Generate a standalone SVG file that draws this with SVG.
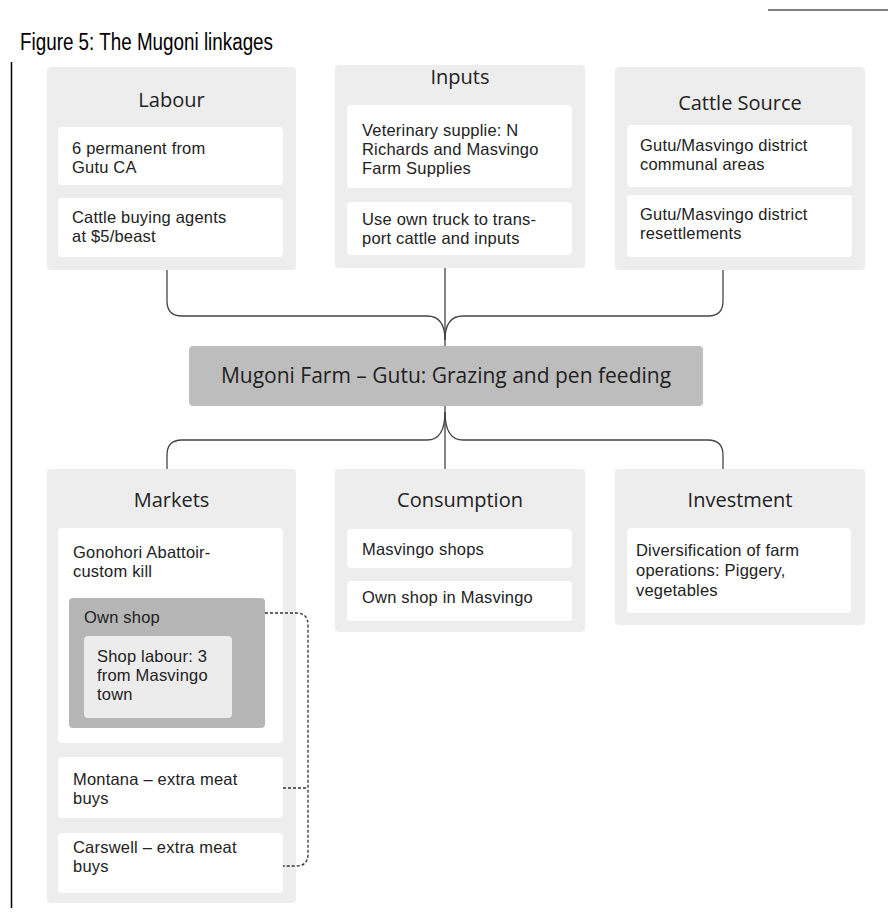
<svg xmlns="http://www.w3.org/2000/svg" width="888" height="923" viewBox="0 0 888 923">
<style>
.outer{fill:#ededed}
.sub{fill:#ffffff}
.center{fill:#bdbdbd}
.shop{fill:#b6b6b6}
.inner{fill:#ececec}
text{font-family:"Open Sans","Noto Sans",sans-serif;fill:#222}
.h{font-size:20px;text-anchor:middle}
.t{font-family:"Liberation Sans",Arial,sans-serif;font-size:16.5px;letter-spacing:0.2px}
.c{font-size:21px;text-anchor:middle}
.title{font-family:"Liberation Sans",Arial,sans-serif;font-size:23px;fill:#000}
.conn{fill:none;stroke:#444;stroke-width:1.3}
.dash{fill:none;stroke:#333;stroke-width:1.3;stroke-dasharray:3 2}
</style>
<line x1="768" y1="10" x2="888" y2="10" stroke="#000" stroke-width="1"/>
<text class="title" x="20" y="50" textLength="253" lengthAdjust="spacingAndGlyphs">Figure 5: The Mugoni linkages</text>
<line x1="11.5" y1="62" x2="11.5" y2="908" stroke="#000" stroke-width="1.5"/>

<g id="labour">
<rect class="outer" x="47" y="67" width="249" height="203" rx="4"/>
<text class="h" x="171.5" y="107">Labour</text>
<rect class="sub" x="58" y="127" width="225" height="58" rx="4"/>
<text class="t" x="72" y="154">6 permanent from</text>
<text class="t" x="72" y="173">Gutu CA</text>
<rect class="sub" x="58" y="198" width="225" height="59" rx="4"/>
<text class="t" x="72" y="223">Cattle buying agents</text>
<text class="t" x="72" y="242">at $5/beast</text>
</g>

<g id="inputs">
<rect class="outer" x="335" y="65" width="250" height="203" rx="4"/>
<text class="h" x="460" y="84">Inputs</text>
<rect class="sub" x="347" y="105" width="225" height="83" rx="4"/>
<text class="t" x="362" y="136">Veterinary supplie: N</text>
<text class="t" x="362" y="155">Richards and Masvingo</text>
<text class="t" x="362" y="174">Farm Supplies</text>
<rect class="sub" x="347" y="202" width="225" height="53" rx="4"/>
<text class="t" x="362" y="225">Use own truck to trans-</text>
<text class="t" x="362" y="244">port cattle and inputs</text>
</g>

<g id="cattle-source">
<rect class="outer" x="615" y="67" width="250" height="203" rx="4"/>
<text class="h" x="740" y="110">Cattle Source</text>
<rect class="sub" x="627" y="125" width="225" height="62" rx="4"/>
<text class="t" x="640" y="151">Gutu/Masvingo district</text>
<text class="t" x="640" y="170">communal areas</text>
<rect class="sub" x="627" y="195" width="225" height="62" rx="4"/>
<text class="t" x="640" y="220">Gutu/Masvingo district</text>
<text class="t" x="640" y="239">resettlements</text>
</g>

<g id="mugoni-farm">
<rect class="center" x="189" y="346" width="514" height="60" rx="4"/>
<text class="c" x="446" y="383">Mugoni Farm – Gutu: Grazing and pen feeding</text>
</g>

<g id="markets">
<rect class="outer" x="47" y="469" width="249" height="434" rx="4"/>
<text class="h" x="171.5" y="507">Markets</text>
<rect class="sub" x="58" y="528" width="225" height="215" rx="4"/>
<text class="t" x="73" y="558">Gonohori Abattoir-</text>
<text class="t" x="73" y="577">custom kill</text>
<g id="own-shop">
<rect class="shop" x="69" y="598" width="196" height="130" rx="4"/>
<text class="t" x="84" y="623">Own shop</text>
<rect class="inner" x="84" y="636" width="148" height="82" rx="4"/>
<text class="t" x="97" y="662">Shop labour: 3</text>
<text class="t" x="97" y="681">from Masvingo</text>
<text class="t" x="97" y="700">town</text>
</g>
<g id="montana">
<rect class="sub" x="58" y="757" width="225" height="61" rx="4"/>
<text class="t" x="73" y="785">Montana – extra meat</text>
<text class="t" x="73" y="804">buys</text>
</g>
<g id="carswell">
<rect class="sub" x="58" y="833" width="225" height="60" rx="4"/>
<text class="t" x="73" y="853">Carswell – extra meat</text>
<text class="t" x="73" y="872">buys</text>
</g>
</g>

<g id="consumption">
<rect class="outer" x="335" y="469" width="250" height="163" rx="4"/>
<text class="h" x="460" y="507">Consumption</text>
<rect class="sub" x="347" y="529" width="225" height="39" rx="4"/>
<text class="t" x="362" y="555">Masvingo shops</text>
<rect class="sub" x="347" y="581" width="225" height="40" rx="4"/>
<text class="t" x="362" y="603">Own shop in Masvingo</text>
</g>

<g id="investment">
<rect class="outer" x="615" y="469" width="250" height="156" rx="4"/>
<text class="h" x="740" y="507">Investment</text>
<rect class="sub" x="627" y="528" width="224" height="85" rx="4"/>
<text class="t" x="636" y="556">Diversification of farm</text>
<text class="t" x="636" y="576">operations: Piggery,</text>
<text class="t" x="636" y="596">vegetables</text>
</g>

<g id="connectors">
<path class="conn" d="M445,268 V346"/>
<path class="conn" d="M167,270 V301 Q167,316 182,316 H427 Q445,316 445,340"/>
<path class="conn" d="M723,270 V301 Q723,316 708,316 H463 Q445,316 445,340"/>
<path class="conn" d="M445,406 V469"/>
<path class="conn" d="M445,412 Q445,440 427,440 H182 Q167,440 167,455 V469"/>
<path class="conn" d="M445,412 Q445,440 463,440 H708 Q723,440 723,455 V469"/>
<path class="dash" d="M265,613 H296 Q308,613 308,625 V854 Q308,866 296,866 H283"/>
<path class="dash" d="M283,788 H308"/>
</g>
</svg>
